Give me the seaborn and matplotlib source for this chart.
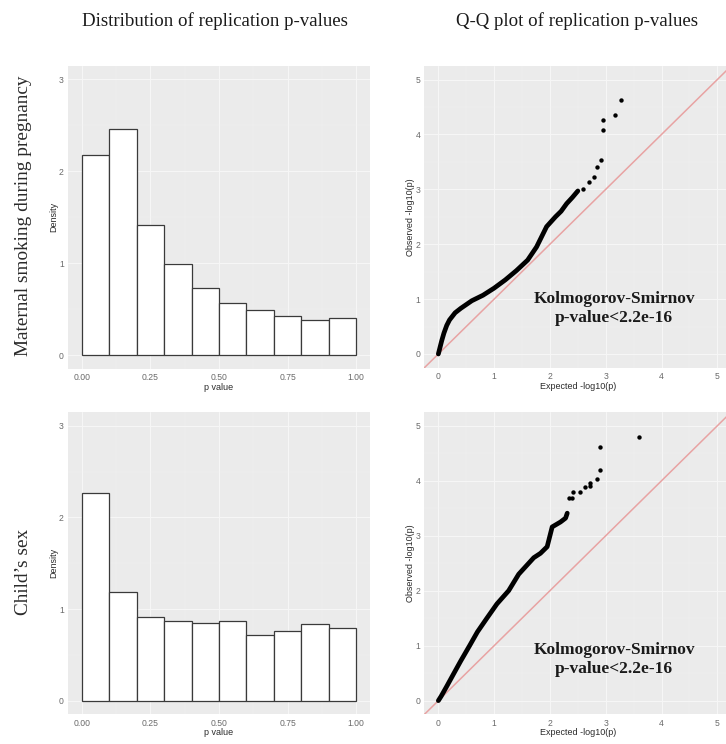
import numpy as np
import pandas as pd
import matplotlib
matplotlib.use("Agg")
import matplotlib.pyplot as plt
import seaborn as sns

# ---------------- data ----------------
col_titles = ["Distribution of replication p-values", "Q-Q plot of replication p-values"]
row_titles = ["Maternal smoking during pregnancy", "Child\u2019s sex"]

p_bins = [0.0, 0.1, 0.2, 0.3, 0.4, 0.5, 0.6, 0.7, 0.8, 0.9, 1.0]
smoking_density = [2.18, 2.46, 1.41, 0.99, 0.73, 0.57, 0.49, 0.42, 0.38, 0.40]
sex_density = [2.27, 1.19, 0.91, 0.87, 0.85, 0.87, 0.72, 0.76, 0.84, 0.79]

smoke_exp = [0, 0.03, 0.06, 0.1, 0.15, 0.2, 0.3, 0.4, 0.5, 0.6, 0.8, 1.0, 1.2, 1.4,
             1.6, 1.76, 1.94, 2.1, 2.2, 2.3, 2.4, 2.5]
smoke_obs = [0, 0.12, 0.24, 0.38, 0.52, 0.62, 0.75, 0.83, 0.9, 0.97, 1.07, 1.2, 1.35, 1.52,
             1.71, 1.95, 2.32, 2.5, 2.6, 2.74, 2.85, 2.97]
smoke_tail_exp = [2.60, 2.70, 2.79, 2.85, 2.92, 2.95, 2.95, 3.17, 3.28]
smoke_tail_obs = [3.00, 3.14, 3.22, 3.41, 3.54, 4.08, 4.27, 4.36, 4.62]

sex_exp = [0, 0.05, 0.1, 0.15, 0.28, 0.4, 0.56, 0.7, 0.87, 1.05, 1.26, 1.44, 1.62, 1.71,
           1.83, 1.95, 1.98, 2.04, 2.19, 2.28, 2.31]
sex_obs = [0, 0.08, 0.17, 0.26, 0.5, 0.72, 1.0, 1.25, 1.5, 1.76, 2.0, 2.3, 2.5, 2.6,
           2.68, 2.8, 2.92, 3.16, 3.25, 3.32, 3.41]
sex_tail_exp = [2.35, 2.40, 2.41, 2.53, 2.62, 2.71, 2.71, 2.84, 2.89, 2.89, 3.59]
sex_tail_obs = [3.68, 3.68, 3.80, 3.80, 3.88, 3.90, 3.96, 4.04, 4.19, 4.62, 4.79]

ks_text = "Kolmogorov-Smirnov\np-value<2.2e-16"
hist_xticks = [0.0, 0.25, 0.5, 0.75, 1.0]
hist_xticklabels = ["0.00", "0.25", "0.50", "0.75", "1.00"]
hist_yticks = [0, 1, 2, 3]
qq_ticks = [0, 1, 2, 3, 4, 5]

# ---------------- style ----------------
sns.set_theme(style="darkgrid", rc={
    "axes.facecolor": "#EBEBEB",
    "grid.color": "white",
    "axes.edgecolor": "none",
})
plt.rcParams["font.family"] = ["Liberation Sans", "DejaVu Sans"]

W, H = 726, 744
fig = plt.figure(figsize=(W / 100, H / 100), dpi=100)
fig.patch.set_facecolor("white")


def px_axes(x0, x1, y0, y1):
    return fig.add_axes([x0 / W, 1 - y1 / H, (x1 - x0) / W, (y1 - y0) / H])


ax_h1 = px_axes(68, 370, 65.5, 368.8)
ax_q1 = px_axes(424.4, 731.3, 65.8, 367.7)
ax_h2 = px_axes(68, 370, 412.0, 714.4)
ax_q2 = px_axes(424.4, 731.3, 412.0, 714.4)

tick_kw = dict(labelsize=6.2, labelcolor="#6A6A6A", color="#A8A8A8",
               length=2.0, width=0.6, pad=1.0)
lab_kw = dict(fontsize=6.5, color="#2A2A2A", labelpad=0.5)


def style_grid(ax):
    ax.grid(which="major", color="#F7F7F7", lw=0.7)
    ax.grid(which="minor", color="#F3F3F3", lw=0.35)
    ax.tick_params(which="both", **tick_kw)
    ax.tick_params(which="minor", length=0)
    for s in ax.spines.values():
        s.set_visible(False)


def draw_hist(ax, dens):
    centers = [(a + b) / 2 for a, b in zip(p_bins[:-1], p_bins[1:])]
    sns.histplot(x=centers, weights=dens, bins=p_bins, stat="count", ax=ax,
                 color="white", edgecolor="#3A3A3A", linewidth=0.9, alpha=1)
    ax.set_xlim(-0.05, 1.05)
    ax.set_ylim(-0.15, 3.15)
    ax.set_xticks(hist_xticks)
    ax.set_xticklabels(hist_xticklabels)
    ax.set_xticks([0.125, 0.375, 0.625, 0.875], minor=True)
    ax.set_yticks(hist_yticks)
    ax.set_yticks([0.5, 1.5, 2.5], minor=True)
    ax.set_xlabel("p value", **lab_kw)
    ax.set_ylabel("Density", **lab_kw)
    style_grid(ax)


def draw_qq(ax, ex, ob, tex, tob, ty):
    ax.axline((0, 0), slope=1, color="#E8A3A3", lw=1.1, zorder=2)
    sns.lineplot(x=ex, y=ob, ax=ax, sort=False, color="black", lw=3.4,
                 solid_capstyle="round", zorder=3)
    sns.scatterplot(x=tex, y=tob, ax=ax, color="black", s=10, linewidth=0, zorder=3)
    ax.set_xlim(-0.25, 5.25)
    ax.set_ylim(-0.25, 5.25)
    ax.set_xticks(qq_ticks)
    ax.set_yticks(qq_ticks)
    ax.set_xticks([0.5, 1.5, 2.5, 3.5, 4.5], minor=True)
    ax.set_yticks([0.5, 1.5, 2.5, 3.5, 4.5], minor=True)
    ax.set_xlabel("Expected -log10(p)", **lab_kw)
    ax.set_ylabel("Observed -log10(p)", **lab_kw)
    style_grid(ax)
    ax.text(3.15, ty, ks_text, ha="center", va="center", fontsize=12.5,
            fontweight="bold", family="Liberation Serif", color="#1A1A1A",
            linespacing=1.25, zorder=4)


draw_hist(ax_h1, smoking_density)
draw_hist(ax_h2, sex_density)
draw_qq(ax_q1, smoke_exp, smoke_obs, smoke_tail_exp, smoke_tail_obs, 0.82)
draw_qq(ax_q2, sex_exp, sex_obs, sex_tail_exp, sex_tail_obs, 0.75)

fig.text(215 / W, 1 - 21 / H, col_titles[0], ha="center", va="center",
         fontsize=13.6, family="Liberation Serif", color="#1A1A1A")
fig.text(577 / W, 1 - 21 / H, col_titles[1], ha="center", va="center",
         fontsize=13.6, family="Liberation Serif", color="#1A1A1A")
fig.text(24 / W, 1 - 216 / H, row_titles[0], ha="center", va="center", rotation=90,
         fontsize=13.9, family="Liberation Serif", color="#2A2A2A")
fig.text(24 / W, 1 - 572 / H, row_titles[1], ha="center", va="center", rotation=90,
         fontsize=13.9, family="Liberation Serif", color="#2A2A2A")

fig.savefig("out.png", dpi=100, facecolor="white")
